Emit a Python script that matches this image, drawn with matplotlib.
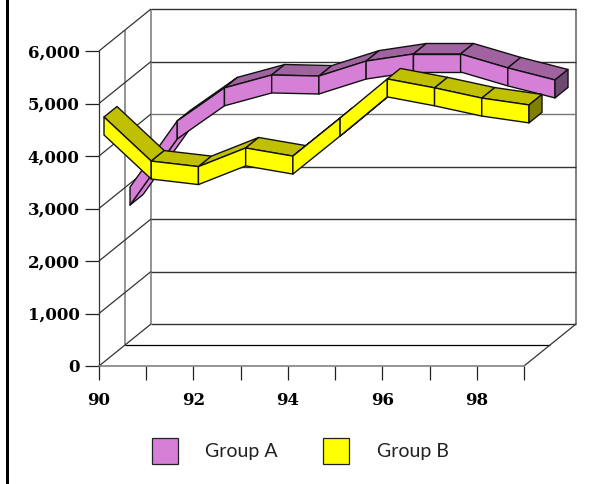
import matplotlib
matplotlib.use("Agg")
import matplotlib.pyplot as plt
from matplotlib.patches import Polygon, Patch

years = [90, 91, 92, 93, 94, 95, 96, 97, 98, 99]
group_a = [2760, 4020, 4650, 4895, 4875, 5160, 5295, 5295, 5030, 4800]
group_b = [4495, 3655, 3550, 3905, 3750, 4475, 5220, 5050, 4855, 4725]
x_tick_labels = ["90", "", "92", "", "94", "", "96", "", "98", ""]
y_ticks = [0, 1000, 2000, 3000, 4000, 5000, 6000]
y_tick_labels = ["0", "1,000", "2,000", "3,000", "4,000", "5,000", "6,000"]

W, H = 594, 484
DEPTH_X = 52 / 47.2
DEPTH_Y = 42 / 52.5 * 1000
HALF_THICK = 171
RIBBON_DEPTH = 0.25
GRID_DARK = "#333333"
GRID_GREY = "#777777"

fig = plt.figure(figsize=(W / 100, H / 100), dpi=100, facecolor="white")
ax = fig.add_axes([99 / W, 1 - 366 / H, 425 / W, 315 / H])
ax.set_xlim(90, 99)
ax.set_ylim(0, 6000)
ax.patch.set_alpha(0)


def proj(x, y, d):
    return (x + d * DEPTH_X, y + d * DEPTH_Y)


def line(p, q, color=GRID_DARK, lw=0.9):
    ax.plot([p[0], q[0]], [p[1], q[1]], color=color, lw=lw, clip_on=False,
            solid_capstyle="butt", zorder=1)


# walls and floor
for d, col in [(0.5, GRID_GREY), (1, GRID_GREY)]:
    line(proj(90, 0, d), proj(90, 6000, d), col, 1.1)
line(proj(99, 0, 1), proj(99, 6000, 1), GRID_GREY, 1.3)
for v in y_ticks:
    line(proj(90, v, 0), proj(90, v, 1))
    line(proj(90, v, 1), proj(99, v, 1), GRID_GREY if v == 4000 else GRID_DARK, 1.0)
line(proj(90, 0, 0.5), proj(99, 0, 0.5), "black", 0.9)
line(proj(99, 0, 0), proj(99, 0, 1))


def ribbon(values, depth, face, top, cap, z):
    e = "#111111"
    lw = 1.0
    w = RIBBON_DEPTH

    def add(pts, color):
        ax.add_patch(Polygon(pts, closed=True, facecolor=color, edgecolor=e, lw=lw,
                             clip_on=False, zorder=z, joinstyle="round"))
        return None

    n = len(values)
    for i in range(n - 1):
        x0, x1 = years[i], years[i + 1]
        y0, y1 = values[i], values[i + 1]
        t0, t1 = y0 + HALF_THICK, y1 + HALF_THICK
        b0, b1 = y0 - HALF_THICK, y1 - HALF_THICK
        slope = (y1 - y0) / (x1 - x0)
        if slope < DEPTH_Y / DEPTH_X:
            add([proj(x0, t0, depth), proj(x1, t1, depth),
                 proj(x1, t1, depth + w), proj(x0, t0, depth + w)], top)
        else:
            add([proj(x0, b0, depth), proj(x1, b1, depth),
                 proj(x1, b1, depth + w), proj(x0, b0, depth + w)], face)
        add([proj(x0, t0, depth), proj(x1, t1, depth),
             proj(x1, b1, depth), proj(x0, b0, depth)], face)
    xe, ye = years[-1], values[-1]
    add([proj(xe, ye + HALF_THICK, depth), proj(xe, ye + HALF_THICK, depth + w),
         proj(xe, ye - HALF_THICK, depth + w), proj(xe, ye - HALF_THICK, depth)], cap)


A_FACE, A_TOP, A_CAP = "#D67FD6", "#A0639F", "#6F4A70"
B_FACE, B_TOP, B_CAP = "#FFFF00", "#C0C000", "#808000"
ribbon(group_a, 31 / 52, A_FACE, A_TOP, A_CAP, 3)
ribbon(group_b, 5 / 52, B_FACE, B_TOP, B_CAP, 4)

# axes, ticks
for s in ("top", "right"):
    ax.spines[s].set_visible(False)
ax.spines["left"].set_color(GRID_DARK)
ax.spines["bottom"].set_color(GRID_GREY)
ax.spines["left"].set_linewidth(0.9)
ax.spines["bottom"].set_linewidth(1.1)
ax.set_xticks(years)
ax.set_xticklabels(x_tick_labels)
ax.set_yticks(y_ticks)
ax.set_yticklabels(y_tick_labels)
font = ["DejaVu Serif"]
ax.tick_params(axis="x", length=10, width=0.9, color="#222222", pad=8.5)
ax.tick_params(axis="y", length=10, width=0.9, color="#222222", pad=4)
for lab in ax.get_xticklabels() + ax.get_yticklabels():
    lab.set_fontfamily(font)
    lab.set_fontweight("bold")
    lab.set_fontsize(12)
    lab.set_color("black")

# legend
handles = [Patch(facecolor=A_FACE, edgecolor="#222222", lw=0.9),
           Patch(facecolor=B_FACE, edgecolor="#222222", lw=0.9)]
leg = fig.legend(handles, ["Group A", "Group B"], loc="center",
                 bbox_to_anchor=(300 / W, 1 - 451 / H), ncol=2, frameon=False,
                 prop={"family": "Lato", "size": 14}, handlelength=1.37,
                 handleheight=1.7, handletextpad=1.4, columnspacing=2.3,
                 borderpad=0, labelcolor="#222222")

# heavy border at the left of the image
fig.add_artist(plt.Rectangle((6 / W, 0), 3 / W, 1, transform=fig.transFigure,
                             facecolor="black", edgecolor="none"))

fig.savefig("out.png", dpi=100)
